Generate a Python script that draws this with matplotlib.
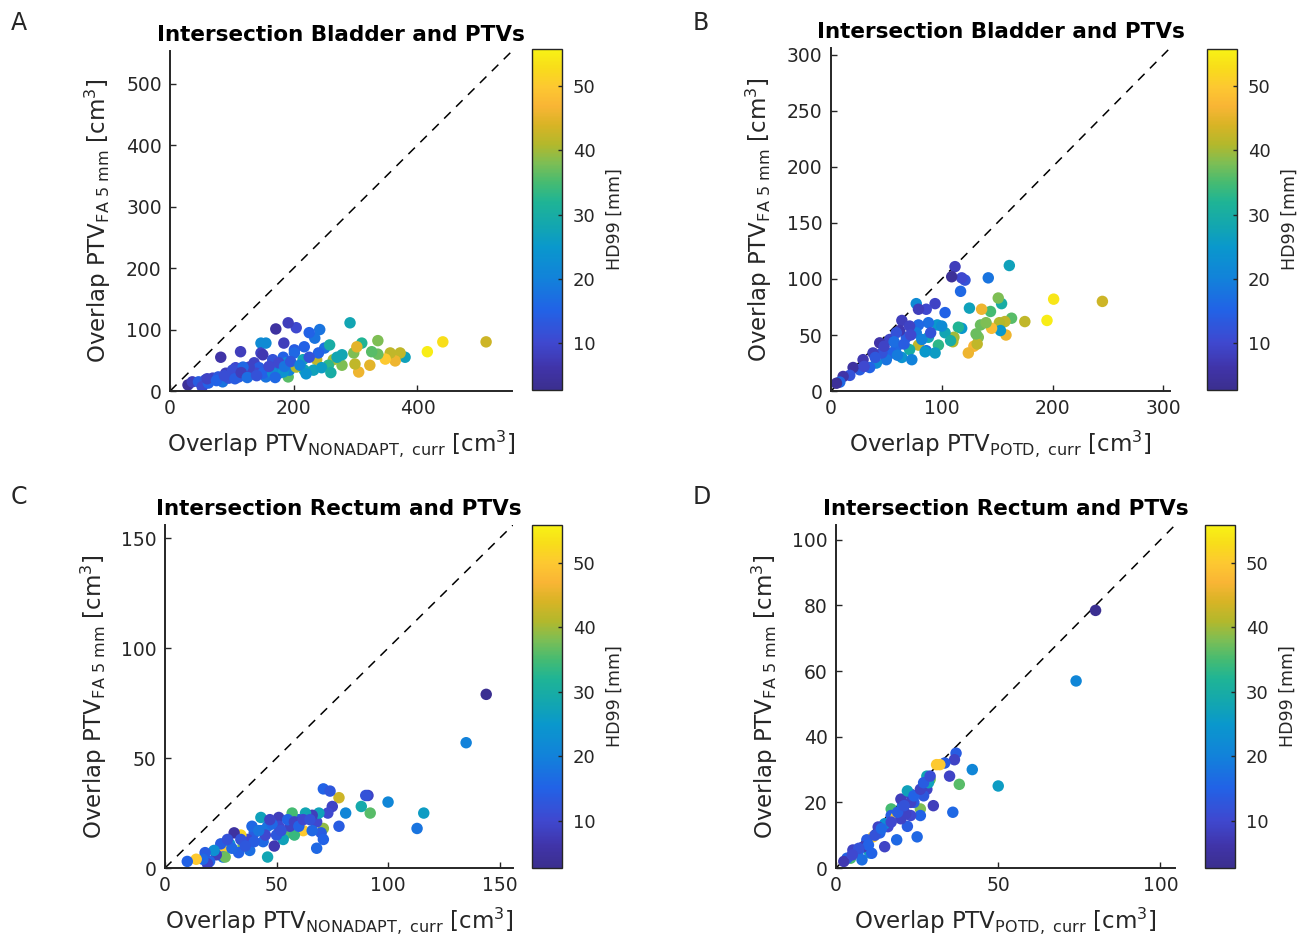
import matplotlib
matplotlib.use('Agg')
import matplotlib.pyplot as plt
import numpy as np
from matplotlib.colors import LinearSegmentedColormap

plt.rcParams['font.family'] = ['DejaVu Sans']
plt.rcParams['mathtext.default'] = 'regular'

# Panel A: bladder, PTV NONADAPT vs PTV FA 5 mm
a_x = [511, 441, 416, 380, 372, 364, 356, 348, 336, 336, 323, 326, 310, 305, 299, 297, 291, 302,
       278, 278, 264, 256, 250, 258, 242, 237, 234, 225, 232, 217, 217, 201, 204, 191, 171, 184,
       199, 191, 147, 147, 114, 82, 29, 36, 46, 57, 69, 78, 90, 101, 106, 122, 134, 136, 144, 150,
       155, 160, 166, 172, 176, 183, 188, 193, 201, 204, 215, 155, 52, 62, 85, 95, 111, 128, 139,
       150, 166, 183, 128, 118, 101, 176,
       60, 75, 88, 105, 115, 125, 140, 160, 170, 185, 195, 210, 220, 245, 260, 270, 240, 225]
a_y = [80, 80, 64, 55, 62, 49, 62, 52, 82, 60, 42, 64, 78, 31, 44, 62, 111, 72,
       42, 59, 51, 42, 70, 75, 100, 51, 86, 95, 34, 34, 72, 67, 103, 111, 101, 78,
       42, 23, 78, 62, 64, 55, 10, 15, 15, 18, 21, 23, 29, 26, 38, 29, 34, 46, 38, 59,
       23, 34, 51, 38, 29, 55, 46, 34, 62, 39, 51, 78, 7, 13, 15, 21, 23, 26, 29,
       29, 29, 31, 39, 39, 34, 46,
       20, 17, 25, 20, 30, 22, 25, 40, 22, 40, 48, 42, 28, 38, 30, 55, 62, 55]
a_c = [43, 53, 55, 27, 42, 46, 42, 50, 38, 37, 45, 36, 32, 46, 42, 38, 28, 45,
       38, 28, 40, 33, 17, 30, 18, 42, 18, 15, 27, 28, 15, 14, 10, 8, 5, 8,
       40, 36, 22, 9, 8, 6, 4, 8, 14, 12, 9, 13, 8, 16, 10, 17, 12, 9, 14, 7,
       18, 20, 12, 17, 19, 15, 22, 20, 16, 41, 28, 22, 10, 15, 18, 12, 14, 20, 10,
       15, 22, 24, 9, 16, 11, 10,
       9, 15, 11, 14, 8, 17, 12, 10, 16, 18, 13, 20, 24, 26, 30, 28, 15, 12]

# Panel B: bladder, PTV POTD vs PTV FA 5 mm
b_x = [245, 201, 195, 175, 163, 161, 157, 152, 158, 153, 154, 151, 144, 145, 142, 136, 135, 140,
       133, 129, 124, 132, 131, 125, 118, 115, 111, 110, 121, 118, 117, 112, 109, 103, 97, 96,
       94, 86, 77, 79, 88, 88, 79, 77, 71, 68, 64, 62, 59, 64, 53, 55, 50, 44, 46, 41,
       38, 35, 29, 26, 20, 17, 11, 8, 5, 73, 86, 94, 103, 79, 71, 59,
       30, 40, 48, 57, 66, 72, 82, 90, 60, 100, 108, 85]
b_y = [80, 82, 63, 62, 65, 112, 62, 61, 50, 54, 78, 83, 71, 56, 101, 73, 59, 61,
       48, 40, 34, 42, 51, 74, 56, 57, 48, 44, 99, 101, 89, 111, 102, 70, 41, 59,
       78, 73, 78, 41, 48, 61, 59, 52, 37, 48, 63, 54, 39, 30, 46, 34, 28, 43, 34, 25,
       34, 21, 28, 19, 21, 14, 13, 8, 7, 28, 36, 34, 52, 73, 58, 52,
       22, 30, 40, 44, 42, 50, 46, 52, 32, 58, 45, 35]
b_c = [43, 54, 55, 42, 36, 27, 42, 41, 46, 25, 30, 38, 35, 48, 18, 46, 37, 38,
       38, 47, 46, 42, 37, 27, 25, 32, 40, 41, 12, 10, 16, 8, 4, 15, 33, 25,
       9, 10, 22, 42, 28, 17, 16, 19, 30, 14, 8, 7, 16, 24, 9, 15, 18, 6, 12, 22,
       8, 15, 7, 14, 5, 12, 6, 16, 4, 20, 18, 26, 28, 8, 9, 12,
       10, 13, 9, 17, 14, 10, 20, 12, 19, 22, 30, 25]

# Panel C: rectum, PTV NONADAPT vs PTV FA 5 mm
c_x = [144, 135, 116, 113, 100, 92, 88, 91, 90, 81, 78, 78, 75, 73, 71, 74, 71, 70,
       71, 68, 68, 69, 66, 63, 62, 60, 57, 55, 58, 56, 51, 53, 50, 49, 46, 43,
       43, 44, 40, 37, 38, 35, 34, 31, 33, 29, 26, 26, 27, 25, 23, 22, 20, 18,
       19, 17, 14, 10, 51, 46, 55, 58, 66, 39, 34,
       40, 45, 48, 52, 60, 62, 65, 47, 42, 36, 30, 28]
c_y = [79, 57, 25, 18, 30, 25, 28, 33, 33, 25, 19, 32, 28, 25, 36, 35, 18, 16,
       13, 9, 21, 25, 24, 25, 17, 22, 25, 16, 15, 19, 23, 13, 15, 10, 5, 23,
       17, 12, 16, 13, 8, 10, 15, 16, 7, 11, 8, 5, 5, 11, 6, 8, 3, 7,
       2, 4, 4, 3, 19, 19, 22, 21, 17, 19, 13,
       12, 15, 20, 17, 19, 22, 22, 22, 17, 10, 9, 13]
c_c = [3, 20, 26, 18, 21, 36, 29, 9, 12, 21, 14, 43, 9, 10, 15, 13, 39, 14,
       15, 16, 10, 27, 8, 28, 50, 14, 35, 36, 34, 9, 8, 27, 13, 7, 28, 27,
       17, 16, 14, 10, 17, 38, 52, 5, 15, 24, 50, 18, 37, 14, 8, 23, 15, 14,
       9, 16, 50, 15, 10, 18, 15, 9, 16, 16, 12,
       14, 10, 16, 12, 15, 10, 12, 9, 18, 13, 16, 12]

# Panel D: rectum, PTV POTD vs PTV FA 5 mm
d_x = [80, 74, 50, 42, 38, 36, 35, 37, 36.5, 33.5, 32, 30, 29, 28, 28.5, 27, 26, 26,
       25, 23, 23, 22, 20.5, 20, 18.7, 20, 17, 17, 16, 15, 13.5, 13, 11.4, 10.4, 9.5, 8.3,
       6.8, 5.2, 4.5, 3.4, 2.4, 8, 11, 15, 18.5, 22, 24, 28, 31, 20, 23, 21.5,
       12, 14, 17, 19, 21, 24, 26, 27, 29, 10, 7, 5]
d_y = [78.5, 57, 25, 30, 25.5, 17, 28, 35, 33, 32, 31.5, 19, 27, 24, 26, 22, 18, 16,
       9.5, 16, 22.5, 12.7, 19, 21, 8.6, 17, 18, 16, 12.6, 13.5, 10.7, 12.5, 9.5, 4.6, 8.6, 6.4,
       4.9, 5.5, 3, 3, 2, 2.5, 4.5, 6.5, 15.5, 23.5, 20, 28, 31.5, 15, 20, 16.5,
       10, 12, 14, 17, 19, 22, 24, 26, 28, 7, 6, 4]
d_c = [3, 21, 26, 21, 36, 16, 9, 14, 9, 14, 50, 8, 37, 9, 27, 13, 38, 15,
       16, 10, 9, 14, 17, 8, 16, 17, 35, 14, 10, 23, 15, 9, 50, 27, 14, 8,
       16, 9, 35, 15, 7, 17, 15, 9, 50, 27, 14, 28, 50, 9, 9, 9,
       12, 16, 10, 14, 12, 15, 9, 14, 11, 15, 12, 10]

hd_min = 2.7
hd_max = 55.8

# parula-like colormap
parula_pos = [0.0, 0.062, 0.137, 0.232, 0.326, 0.42, 0.476, 0.552, 0.608, 0.665, 0.721,
              0.778, 0.834, 0.891, 0.947, 1.0]
parula_hex = ['#3b2f8f', '#4034a8', '#3f48cf', '#2262e6', '#1282da', '#0a98cc', '#12a5b2',
              '#1fb495', '#45bb72', '#7cbe55', '#b3b82c', '#d8b425', '#f9b535', '#fdc831',
              '#f8dd1a', '#f8f215']
parula = LinearSegmentedColormap.from_list('parula', list(zip(parula_pos, parula_hex)))

dark = '#262626'

fig = plt.figure(figsize=(13.02, 9.43), dpi=100)

panels = [
    # axes rect, colorbar rect, x, y, c, lim, ticks, title, xlabel sub, letter, letter pos
    ([0.1306, 0.5853, 0.2627, 0.3606], [0.4086, 0.5864, 0.0230, 0.3616], a_x, a_y, a_c, 553,
     [0, 200, 400], [0, 100, 200, 300, 400, 500], 'Intersection Bladder and PTVs',
     'NONADAPT,\\ curr', 'A', (0.008, 0.976)),
    ([0.6382, 0.5853, 0.2604, 0.3637], [0.9270, 0.5864, 0.0230, 0.3616], b_x, b_y, b_c, 306,
     [0, 100, 200, 300], [0, 50, 100, 150, 200, 250, 300], 'Intersection Bladder and PTVs',
     'POTD,\\ curr', 'B', (0.532, 0.976)),
    ([0.1267, 0.0795, 0.2673, 0.3637], [0.4086, 0.0795, 0.0230, 0.3637], c_x, c_y, c_c, 156,
     [0, 50, 100, 150], [0, 50, 100, 150], 'Intersection Rectum and PTVs',
     'NONADAPT,\\ curr', 'C', (0.008, 0.473)),
    ([0.6421, 0.0795, 0.2604, 0.3637], [0.9255, 0.0795, 0.0230, 0.3637], d_x, d_y, d_c, 104.5,
     [0, 50, 100], [0, 20, 40, 60, 80, 100], 'Intersection Rectum and PTVs',
     'POTD,\\ curr', 'D', (0.532, 0.473)),
]

for rect, cb_rect, xs, ys, cs, lim, xt, yt, title, xsub, letter, lpos in panels:
    ax = fig.add_axes(rect)
    ax.plot([0, lim], [0, lim], linestyle=(0, (6, 5)), color='k', linewidth=1.1, zorder=1)
    sc = ax.scatter(xs, ys, c=cs, cmap=parula, vmin=hd_min, vmax=hd_max, s=68,
                    edgecolors='none', zorder=2)
    ax.set_xlim(0, lim)
    ax.set_ylim(0, lim)
    ax.set_xticks(xt)
    ax.set_yticks(yt)
    ax.spines['top'].set_visible(False)
    ax.spines['right'].set_visible(False)
    for s in ['left', 'bottom']:
        ax.spines[s].set_color(dark)
        ax.spines[s].set_linewidth(1.4)
    ax.tick_params(direction='in', length=4, width=1, colors=dark, labelsize=13.5, pad=6)
    ax.set_title(title, fontsize=15.5, fontweight='bold', pad=7)
    ax.set_xlabel(r'Overlap PTV$_{%s}$ [cm$^3$]' % xsub, fontsize=16.5, color=dark, labelpad=7)
    ax.set_ylabel(r'Overlap PTV$_{FA\ 5\ mm}$ [cm$^3$]', fontsize=16.5, color=dark, labelpad=9)

    cax = fig.add_axes(cb_rect)
    cb = fig.colorbar(sc, cax=cax)
    cb.set_ticks([10, 20, 30, 40, 50])
    cb.ax.tick_params(direction='in', length=3, width=1, colors=dark, labelsize=13, pad=8)
    cb.outline.set_edgecolor(dark)
    cb.outline.set_linewidth(1)
    cb.set_label('HD99 [mm]', fontsize=12.5, color=dark, labelpad=7)

    fig.text(lpos[0], lpos[1], letter, fontsize=17, color=dark, va='center', ha='left')

fig.savefig('out.png', dpi=100)
